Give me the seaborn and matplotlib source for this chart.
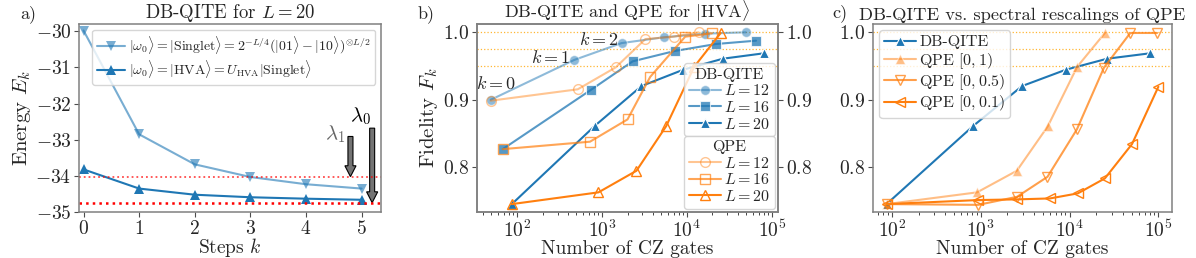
import numpy as np
import matplotlib
matplotlib.use("Agg")
import matplotlib.pyplot as plt
import seaborn as sns

# ---- panel a: energies vs steps
steps = [0, 1, 2, 3, 4, 5]
E_singlet = [-29.98, -32.85, -33.68, -34.03, -34.23, -34.35]
E_hva = [-33.82, -34.35, -34.52, -34.59, -34.63, -34.66]
lam1 = -34.02
lam0 = -34.74

# ---- panel b: fidelity vs CZ gates (DB-QITE)
cz_db12 = [49, 470, 1700, 5330, 16400, 49300]
F_db12 = [0.900, 0.959, 0.984, 0.9926, 0.998, 1.0]
cz_db16 = [68, 737, 2300, 7180, 22100, 65200]
F_db16 = [0.827, 0.9145, 0.957, 0.9723, 0.9827, 0.9876]
cz_db20 = [87, 828, 2920, 9080, 26500, 81500]
F_db20 = [0.7456, 0.8617, 0.9204, 0.9446, 0.9609, 0.969]

# QPE
cz_qpe12 = [49, 519, 1450, 3250, 6980, 13700]
F_qpe12 = [0.8987, 0.9156, 0.948, 0.990, 0.9935, 1.0]
cz_qpe16 = [68, 723, 2000, 3700, 9550, 19700]
F_qpe16 = [0.827, 0.838, 0.871, 0.934, 0.9935, 0.9985]
cz_qpe20 = [87, 910, 2550, 5700, 12200, 25000]
F_qpe20 = [0.7456, 0.763, 0.795, 0.861, 0.949, 0.999]

# ---- panel c: spectral rescalings
cz_r05 = [87, 937, 2560, 5640, 12100, 24400, 48300, 96800]
F_r05 = [0.7456, 0.7445, 0.7564, 0.786, 0.8563, 0.9476, 0.999, 0.999]
cz_r01 = [87, 937, 2560, 6030, 12400, 25000, 50500, 100000]
F_r01 = [0.7456, 0.7516, 0.7526, 0.754, 0.7615, 0.7837, 0.8345, 0.9194]

k_labels = ["$k=0$", "$k=1$", "$k=2$"]
k_pos = [(57, 0.924), (250, 0.963), (920, 0.9886)]
thresholds = [1.0, 0.975, 0.95]

sns.set_style("ticks")
plt.rcParams["font.family"] = "serif"
plt.rcParams["font.serif"] = ["cmr10", "DejaVu Serif"]
plt.rcParams["mathtext.fontset"] = "cm"
plt.rcParams["axes.formatter.use_mathtext"] = True
plt.rcParams["axes.unicode_minus"] = True

blue = "#1f77b4"
orange = "#ff7f0e"
FS = 13
TFS = 14

fig = plt.figure(figsize=(11.96, 2.58), dpi=100)
axa = fig.add_axes([0.0661, 0.178, 0.2525, 0.729])
axb = fig.add_axes([0.3988, 0.178, 0.2517, 0.729])
axc = fig.add_axes([0.7299, 0.178, 0.2500, 0.729])

for ax in (axa, axb, axc):
    for s in ax.spines.values():
        s.set_color("0.5")
        s.set_linewidth(1.1)
    ax.tick_params(labelsize=TFS, color="0.3", pad=2)

# ===== a)
sns.lineplot(x=steps, y=E_singlet, ax=axa, color=blue, alpha=0.6, marker="v",
             markersize=7, markeredgewidth=0, lw=1.5,
             label=r"$|\omega_0\rangle = |\mathrm{Singlet}\rangle = 2^{-L/4}(|01\rangle - |10\rangle)^{\otimes L/2}$")
sns.lineplot(x=steps, y=E_hva, ax=axa, color=blue, marker="^",
             markersize=7, markeredgewidth=0, lw=1.5,
             label=r"$|\omega_0\rangle = |\mathrm{HVA}\rangle = U_{\mathrm{HVA}}|\mathrm{Singlet}\rangle$")
axa.axhline(lam1, color="red", ls=":", lw=1.3, alpha=0.7)
axa.axhline(lam0, color="red", ls=":", lw=1.8)
axa.arrow(4.8, -32.91, 0, lam1 - (-32.91), width=0.09, head_width=0.2, head_length=0.3,
          length_includes_head=True, fc="0.45", ec="k", lw=0.8)
axa.arrow(5.19, -32.68, 0, lam0 - (-32.68), width=0.09, head_width=0.2, head_length=0.3,
          length_includes_head=True, fc="0.45", ec="k", lw=0.8)
axa.text(4.52, -33.0, r"$\lambda_1$", fontsize=15, color="0.4", ha="center")
axa.text(4.98, -32.5, r"$\lambda_0$", fontsize=15, color="k", ha="center")
axa.set_xlim(-0.08, 5.35)
axa.set_ylim(-35, -29.8)
axa.set_xticks(steps)
axa.set_yticks([-30, -31, -32, -33, -34, -35])
axa.set_xlabel("Steps $k$", fontsize=TFS, labelpad=-1)
axa.set_ylabel("Energy $E_k$", fontsize=TFS + 1, labelpad=2)
axa.set_title("DB-QITE for $L=20$", fontsize=FS + 0.5, pad=3)
axa.legend(loc="upper right", fontsize=10, handlelength=2.0, borderaxespad=0.4,
           labelspacing=0.15, handletextpad=0.3, borderpad=0.35)

# ===== b)
axb.set_xscale("log")
for t in thresholds:
    axb.axhline(t, color="orange", ls=":", lw=0.9, alpha=0.8)
db_sets = [(cz_db12, F_db12, "o", 0.5), (cz_db16, F_db16, "s", 0.75), (cz_db20, F_db20, "^", 1.0)]
qpe_sets = [(cz_qpe12, F_qpe12, "o", 0.45), (cz_qpe16, F_qpe16, "s", 0.7), (cz_qpe20, F_qpe20, "^", 1.0)]
Ls = [12, 16, 20]
h_db, h_qpe = [], []
for (x, y, m, a), L in zip(db_sets, Ls):
    sns.lineplot(x=x, y=y, ax=axb, color=blue, alpha=a, marker=m, markersize=7,
                 markeredgewidth=0.8, lw=1.5, label=f"$L={L}$", legend=False)
    h_db.append(axb.get_lines()[-1])
for (x, y, m, a), L in zip(qpe_sets, Ls):
    sns.lineplot(x=x, y=y, ax=axb, color=orange, alpha=a, marker=m, markersize=7,
                 mfc="none", mec=orange, markeredgewidth=1.0, lw=1.5,
                 label=f"$L={L}$", legend=False)
    h_qpe.append(axb.get_lines()[-1])
for lab, (xx, yy) in zip(k_labels, k_pos):
    axb.text(xx, yy, lab, fontsize=FS, ha="center", va="center")
axb.set_ylim(0.7338, 1.0123)
axb.set_yticks([0.8, 0.9, 1.0])
axb.set_xlabel("Number of CZ gates", fontsize=TFS, labelpad=-1)
axb.set_ylabel("Fidelity $F_k$", fontsize=TFS + 1, labelpad=2)
axb.set_title(r"DB-QITE and QPE for $|\mathrm{HVA}\rangle$", fontsize=FS, pad=1)
leg1 = axb.legend(h_db, [f"$L={L}$" for L in Ls], title="DB-QITE", loc="lower right",
                  bbox_to_anchor=(1.0, 0.385), fontsize=11.5, title_fontsize=11.5,
                  handlelength=2.0, labelspacing=0.1, handletextpad=0.2, borderaxespad=0.2,
                  borderpad=0.3)
axb.add_artist(leg1)
axb.legend(h_qpe, [f"$L={L}$" for L in Ls], title="QPE", loc="lower right",
           fontsize=11.5, title_fontsize=11.5, handlelength=2.0, labelspacing=0.1,
           handletextpad=0.2, borderaxespad=0.2, borderpad=0.3)
axb2 = axb.twinx()
axb2.set_ylim(axb.get_ylim())
axb2.set_yticks([0.8, 0.9, 1.0])
axb2.tick_params(labelsize=TFS, color="0.3", pad=2)
for s in axb2.spines.values():
    s.set_color("0.5")
    s.set_linewidth(1.1)

# ===== c)
axc.set_xscale("log")
for t in thresholds:
    axc.axhline(t, color="orange", ls=":", lw=0.9, alpha=0.8)
sns.lineplot(x=cz_db20, y=F_db20, ax=axc, color=blue, marker="^", markersize=7,
             markeredgewidth=0.8, lw=1.5, label="DB-QITE", legend=False)
sns.lineplot(x=cz_qpe20, y=F_qpe20, ax=axc, color=orange, alpha=0.5, marker="^",
             markersize=7, markeredgewidth=0.8, lw=1.5, label=r"QPE $[0,1)$", legend=False)
sns.lineplot(x=cz_r05, y=F_r05, ax=axc, color=orange, alpha=0.75, marker="v",
             markersize=7, mfc="none", mec=orange, markeredgewidth=1.0, lw=1.5,
             label=r"QPE $[0,0.5)$", legend=False)
sns.lineplot(x=cz_r01, y=F_r01, ax=axc, color=orange, marker="<",
             markersize=7, mfc="none", mec=orange, markeredgewidth=1.0, lw=1.5,
             label=r"QPE $[0,0.1)$", legend=False)
axc.set_ylim(0.7338, 1.0123)
axc.set_yticks([0.8, 0.9, 1.0])
axc.set_xlabel("Number of CZ gates", fontsize=TFS, labelpad=-1)
axc.set_title("DB-QITE vs. spectral rescalings of QPE", fontsize=FS + 0.3, pad=3)
axc.legend(loc="upper left", fontsize=11.5, handlelength=2.0, labelspacing=0.1,
           handletextpad=0.2, borderaxespad=0.4, borderpad=0.3)

fig.text(0.017, 0.93, "a)", fontsize=FS)
fig.text(0.349, 0.93, "b)", fontsize=FS)
fig.text(0.696, 0.935, "c)", fontsize=FS)

fig.savefig("out.png", dpi=100)
